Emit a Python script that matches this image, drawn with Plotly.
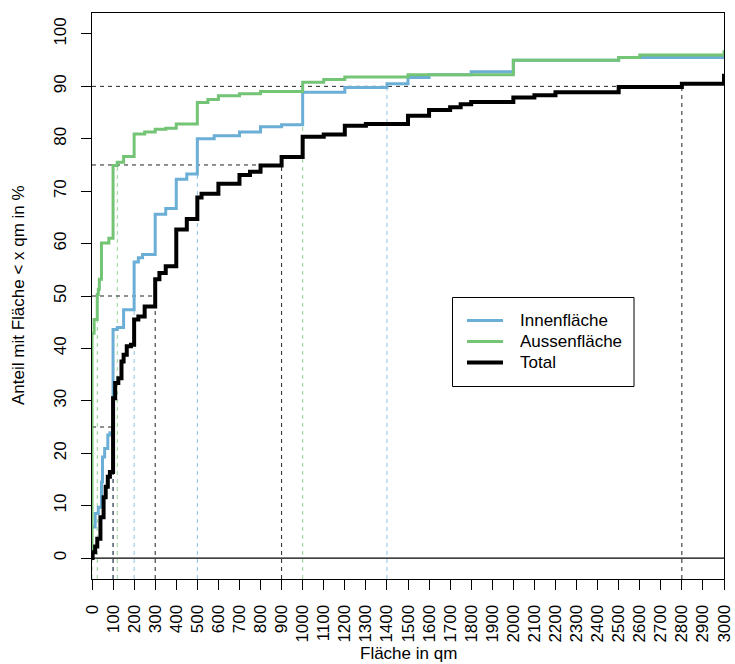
import plotly.graph_objects as go

# ---------------- data ----------------
total_x = [0, 3, 15, 25, 40, 55, 65, 75, 85, 100, 110, 125, 140, 150, 165, 185, 200, 220, 250,
           300, 320, 350, 400, 450, 500, 520, 600, 700, 750, 800, 900, 1000, 1100, 1200, 1300,
           1500, 1600, 1700, 1750, 1800, 2000, 2100, 2200, 2500, 2800, 3000]
total_y = [0, 1.1, 2.2, 3.7, 7.8, 11.6, 13.6, 15.5, 16.4, 30.5, 33.4, 34.3, 37.5, 38.8, 40.4, 40.7,
           45.5, 46.1, 48.0, 53.2, 54.4, 55.7, 62.7, 64.7, 68.8, 69.5, 71.4, 73.1, 73.7, 74.9, 76.5,
           80.4, 80.8, 82.5, 82.8, 84.4, 85.5, 86.0, 86.6, 87.0, 87.9, 88.3, 88.9, 89.9, 90.5, 92.4]

inner_x = [0, 15, 30, 45, 50, 60, 75, 85, 100, 120, 150, 200, 220, 240, 300, 350, 400, 450, 500,
           580, 700, 800, 900, 1000, 1200, 1400, 1500, 1600, 1800, 2000, 2500, 3000]
inner_y = [5.9, 8.5, 9.7, 14.5, 19.3, 20.9, 23.5, 23.9, 43.6, 44.0, 47.4, 56.5, 57.3, 57.9, 65.6,
           66.7, 72.3, 73.3, 80.0, 80.6, 81.3, 82.3, 82.7, 88.9, 89.8, 90.5, 91.7, 92.2, 92.8,
           95.0, 95.5, 95.6]

outer_x = [0, 0, 10, 25, 30, 35, 45, 80, 100, 120, 150, 200, 250, 300, 350, 400, 500, 550, 600,
           700, 800, 1000, 1100, 1200, 1500, 2000, 2500, 2600, 3000]
outer_y = [0, 42.9, 45.5, 50.3, 51.3, 53.2, 60.1, 61.0, 74.9, 75.5, 76.6, 80.9, 81.3, 81.8, 82.0,
           82.8, 86.9, 87.5, 88.2, 88.6, 89.0, 90.8, 91.3, 91.8, 92.2, 95.0, 95.5, 96.0, 96.9]

q_levels = [25, 50, 75, 90]
q_total = [100, 300, 900, 2800]
q_inner = [100, 200, 500, 1400]
q_outer = [0, 25, 120, 1000]

series_names = ["Innenfläche", "Aussenfläche", "Total"]
x_ticks = list(range(0, 3001, 100))
y_ticks = list(range(0, 101, 10))

# ---------------- style ----------------
C_IN = "#6BAED6"
C_OUT = "#74C476"
C_TOT = "#000000"
C_IN_D = "#8fc2e0"
C_OUT_D = "#96d296"
C_TOT_D = "#222222"
FONT = "Liberation Sans, Arial, Helvetica, sans-serif"
YMIN, YMAX = -4, 104

fig = go.Figure()


def vlines(qs, color):
    xs, ys = [], []
    for q, lv in zip(qs, q_levels):
        xs += [q, q, None]
        ys += [YMIN, lv, None]
    fig.add_trace(go.Scatter(x=xs, y=ys, mode="lines", showlegend=False, hoverinfo="skip",
                             line=dict(color=color, width=1, dash="4px,4px")))


vlines(q_outer, C_OUT_D)
vlines(q_inner, C_IN_D)
vlines(q_total, C_TOT_D)

# horizontal quantile guides
hx, hy = [], []
for i, lv in enumerate(q_levels):
    hx += [0, max(q_total[i], q_inner[i], q_outer[i]), None]
    hy += [lv, lv, None]
fig.add_trace(go.Scatter(x=hx, y=hy, mode="lines", showlegend=False, hoverinfo="skip",
                         line=dict(color=C_TOT_D, width=1, dash="4px,4px")))

fig.add_trace(go.Scatter(x=inner_x, y=inner_y, name=series_names[0], mode="lines",
                         line=dict(color=C_IN, width=3, shape="hv"), showlegend=False))
fig.add_trace(go.Scatter(x=outer_x, y=outer_y, name=series_names[1], mode="lines",
                         line=dict(color=C_OUT, width=3, shape="hv"), showlegend=False))
fig.add_trace(go.Scatter(x=total_x, y=total_y, name=series_names[2], mode="lines",
                         line=dict(color=C_TOT, width=4, shape="hv"), showlegend=False))

# zero line
fig.add_shape(type="line", xref="paper", yref="y", x0=0, x1=1, y0=0, y1=0,
              line=dict(color="black", width=1.3))

# ---------------- manual legend (R style) ----------------
L, R_, T, B = 92.0, 724.0, 13.0, 579.0
W, H = R_ - L, B - T


def px(x):
    return (x - L) / W


def py(y):
    return (B - y) / H


fig.add_shape(type="rect", xref="paper", yref="paper", x0=px(452.5), x1=px(634),
              y0=py(386.5), y1=py(297.5), line=dict(color="black", width=1),
              fillcolor="rgba(0,0,0,0)")
rows = [320.5, 341.5, 362.5]
for name, col, wd, ry in zip(series_names, [C_IN, C_OUT, C_TOT], [3, 3, 4], rows):
    fig.add_shape(type="line", xref="paper", yref="paper", x0=px(467), x1=px(503),
                  y0=py(ry), y1=py(ry), line=dict(color=col, width=wd))
    fig.add_annotation(xref="paper", yref="paper", x=px(518), y=py(ry), text=name,
                       showarrow=False, xanchor="left", yanchor="middle",
                       font=dict(family=FONT, size=17, color="black"))

# axis titles
fig.add_annotation(xref="paper", yref="paper", x=0.5, y=py(653), text="Fläche in qm",
                   showarrow=False, xanchor="center", yanchor="middle",
                   font=dict(family=FONT, size=17, color="black"))
fig.add_annotation(xref="paper", yref="paper", x=px(18), y=py(295),
                   text="Anteil mit Fläche < x qm in %", textangle=-90,
                   showarrow=False, xanchor="center", yanchor="middle",
                   font=dict(family=FONT, size=17, color="black"))

fig.update_layout(
    width=735, height=664,
    margin=dict(l=92, r=11, t=13, b=85, pad=0),
    paper_bgcolor="white", plot_bgcolor="white",
    font=dict(family=FONT, size=17, color="black"),
    showlegend=False,
)
fig.update_xaxes(range=[0, 3000], tickvals=x_ticks, ticktext=[str(v) for v in x_ticks],
                 tickangle=-90, ticks="outside", ticklen=10, tickwidth=1, tickcolor="black",
                 showline=True, linecolor="black", linewidth=1, mirror=True,
                 showgrid=False, zeroline=False, ticklabelstandoff=8, automargin=False,
                 tickfont=dict(family=FONT, size=17, color="black"))
fig.update_yaxes(range=[YMIN, YMAX], tickvals=y_ticks, ticktext=[str(v) for v in y_ticks],
                 tickangle=-90, ticks="outside", ticklen=10, tickwidth=1, tickcolor="black",
                 showline=True, linecolor="black", linewidth=1, mirror=True,
                 showgrid=False, zeroline=False, ticklabelstandoff=8, automargin=False,
                 tickfont=dict(family=FONT, size=17, color="black"))

fig.write_html("out.html", config={"displayModeBar": False, "staticPlot": True},
               post_script="document.body.style.margin='0';document.body.style.overflow='hidden';")
